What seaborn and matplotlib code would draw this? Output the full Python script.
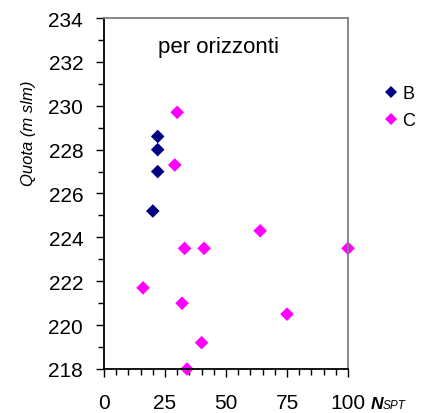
import matplotlib
matplotlib.use('Agg')
import matplotlib.pyplot as plt
import pandas as pd
import seaborn as sns
from matplotlib.ticker import MultipleLocator

# Data
b_nspt = [22, 22, 22, 20]
b_quota = [228.6, 228.0, 227.0, 225.2]
c_nspt = [30, 29, 64, 33, 41, 100, 16, 32, 75, 40, 34]
c_quota = [229.7, 227.3, 224.3, 223.5, 223.5, 223.5, 221.7, 221.0, 220.5, 219.2, 218.0]
series_names = ['B', 'C']
x_ticks = [0, 25, 50, 75, 100]
y_ticks = [218, 220, 222, 224, 226, 228, 230, 232, 234]

data = pd.DataFrame({
    'nspt': b_nspt + c_nspt,
    'quota': b_quota + c_quota,
    'serie': ['B'] * len(b_nspt) + ['C'] * len(c_nspt),
})

sns.set_style('white')
plt.rcParams['font.family'] = ['Liberation Sans', 'DejaVu Sans']
for key in ['text.color', 'axes.labelcolor', 'xtick.color', 'ytick.color']:
    plt.rcParams[key] = 'black'

fig = plt.figure(figsize=(4.43, 4.14), dpi=100)
ax = fig.add_axes([0.2348, 0.1063, 0.5508, 0.8478])

palette = {'B': '#000080', 'C': '#FF00FF'}
sns.scatterplot(data=data, x='nspt', y='quota', hue='serie', hue_order=series_names,
                palette=palette, marker='D', s=48, linewidth=0, ax=ax, clip_on=False)

ax.set_xlim(0, 100)
ax.set_ylim(218, 234)
ax.set_xticks(x_ticks)
ax.set_yticks(y_ticks)
ax.xaxis.set_minor_locator(MultipleLocator(5))
ax.yaxis.set_minor_locator(MultipleLocator(1))
ax.tick_params(axis='both', which='major', direction='out', length=6, width=1,
               color='black', labelsize=15)
ax.tick_params(axis='both', which='minor', direction='out', length=4, width=1,
               color='black')
ax.tick_params(axis='x', which='both', bottom=True, pad=11)
ax.tick_params(axis='y', which='both', left=True, pad=9)

for side in ['left', 'bottom']:
    ax.spines[side].set_color('black')
    ax.spines[side].set_linewidth(1.3)
for side in ['top', 'right']:
    ax.spines[side].set_color('#808080')
    ax.spines[side].set_linewidth(1.3)

ax.set_xlabel('')
ax.set_ylabel('Quota (m slm)', fontsize=12, style='italic')
ax.yaxis.set_label_coords(-0.28, 0.675)
ax.text(0.22, 0.92, 'per orizzonti', transform=ax.transAxes, fontsize=16, va='center')

fig.text(0.836, 0.012, 'N', fontsize=12.5, style='italic', weight='bold', va='baseline')
fig.text(0.864, 0.012, 'SPT', fontsize=8.5, style='italic', va='baseline')

ax.legend(loc='upper left', bbox_to_anchor=(0.847, 0.814), bbox_transform=fig.transFigure,
          frameon=False, fontsize=13, handlelength=0.8, handletextpad=0.2,
          labelspacing=0.55, markerscale=0.9, borderpad=0, title=None)

fig.savefig('out.png', dpi=100)
